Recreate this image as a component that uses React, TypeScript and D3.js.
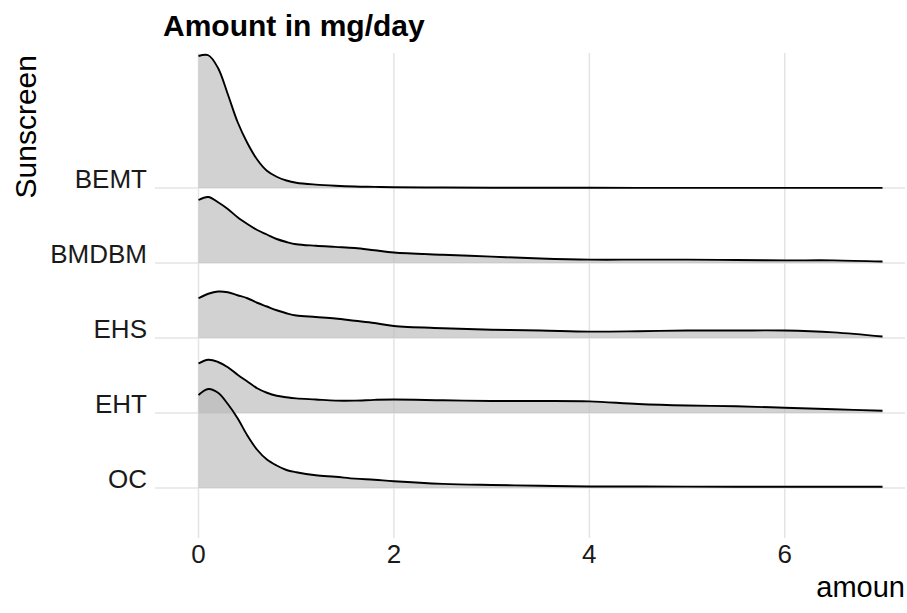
import * as d3 from "d3";

// sunscreen categories, top to bottom
const categories = ["BEMT", "BMDBM", "EHS", "EHT", "OC"];

const amount = [0, 0.1, 0.2, 0.3, 0.4, 0.5, 0.6, 0.7, 0.8, 0.9, 1.0, 1.2, 1.4, 1.6, 1.8, 2.0, 2.5, 3.0, 3.5, 4.0, 4.5, 5.0, 5.5, 6.0, 6.5, 7.0];

// ridge heights (in units of one row)
const bemt = [1.76, 1.77, 1.6, 1.25, 0.88, 0.6, 0.38, 0.23, 0.15, 0.1, 0.07, 0.045, 0.03, 0.02, 0.015, 0.01, 0.006, 0.004, 0.003, 0.003, 0.002, 0.002, 0.002, 0.002, 0.002, 0.002];
const bmdbm = [0.84, 0.88, 0.81, 0.72, 0.61, 0.52, 0.44, 0.38, 0.32, 0.28, 0.25, 0.23, 0.215, 0.2, 0.17, 0.14, 0.11, 0.085, 0.06, 0.045, 0.045, 0.045, 0.04, 0.035, 0.035, 0.02];
const ehs = [0.53, 0.59, 0.62, 0.61, 0.57, 0.53, 0.47, 0.42, 0.37, 0.33, 0.3, 0.28, 0.26, 0.23, 0.2, 0.16, 0.13, 0.11, 0.1, 0.085, 0.09, 0.1, 0.1, 0.1, 0.075, 0.02];
const eht = [0.66, 0.71, 0.68, 0.61, 0.51, 0.42, 0.33, 0.27, 0.23, 0.21, 0.195, 0.18, 0.165, 0.165, 0.175, 0.18, 0.17, 0.16, 0.16, 0.155, 0.12, 0.1, 0.09, 0.07, 0.05, 0.03];
const oc = [1.24, 1.32, 1.27, 1.12, 0.93, 0.7, 0.51, 0.38, 0.3, 0.24, 0.21, 0.17, 0.15, 0.125, 0.11, 0.09, 0.055, 0.04, 0.03, 0.02, 0.02, 0.018, 0.017, 0.017, 0.017, 0.017];

const xTicks = [0, 2, 4, 6];

const W = 907;
const H = 613;
const font = "'Liberation Sans', Arial, sans-serif";

export default function App() {
  const series = [bemt, bmdbm, ehs, eht, oc];

  const panel = { left: 155, right: 905, top: 53, bottom: 538 };

  const x = d3.scaleLinear().domain([0, 7]).range([198.5, 882.5]);
  const y = d3.scalePoint<string>().domain(categories).range([188, 488]);
  const h = d3.scaleLinear().domain([0, 1]).range([0, 75]);

  return (
    <svg width={W} height={H} style={{ position: "absolute", left: 0, top: 0, background: "#fff" }}>
      {/* grid */}
      <g stroke="#e4e4e4" strokeWidth={1.5}>
        {categories.map((c) => (
          <line key={c} x1={panel.left} x2={panel.right} y1={y(c)} y2={y(c)} />
        ))}
        {xTicks.map((t) => (
          <line key={t} x1={x(t)} x2={x(t)} y1={panel.top} y2={panel.bottom} />
        ))}
      </g>

      {/* ridges, top row first so lower ones sit over it */}
      {categories.map((c, i) => {
        const base = y(c)!;
        const pts = amount.map((a, j) => [a, series[i][j]] as [number, number]);
        const area = d3
          .area<[number, number]>()
          .x((d) => x(d[0]))
          .y0(base)
          .y1((d) => base - h(Math.max(0, d[1])))
          .curve(d3.curveCatmullRom.alpha(0.5));
        const line = d3
          .line<[number, number]>()
          .x((d) => x(d[0]))
          .y((d) => base - h(Math.max(0, d[1])))
          .curve(d3.curveCatmullRom.alpha(0.5));
        return (
          <g key={c}>
            <path d={area(pts)!} fill="#bababa" fillOpacity={0.65} />
            <path d={line(pts)!} fill="none" stroke="#000" strokeWidth={1.9} />
          </g>
        );
      })}

      {/* y labels */}
      <g fontFamily={font} fontSize={26} fill="#1a1a1a" textAnchor="end">
        {categories.map((c) => (
          <text key={c} x={147} y={y(c)}>
            {c}
          </text>
        ))}
      </g>

      {/* x labels */}
      <g fontFamily={font} fontSize={26} fill="#1a1a1a" textAnchor="middle">
        {xTicks.map((t) => (
          <text key={t} x={x(t)} y={563}>
            {t}
          </text>
        ))}
      </g>

      {/* titles */}
      <text x={163} y={36} fontFamily={font} fontSize={30} fontWeight="bold" fill="#000">
        Amount in mg/day
      </text>
      <text
        transform={`translate(36,55) rotate(-90)`}
        fontFamily={font}
        fontSize={30}
        fill="#000"
        textAnchor="end"
      >
        Sunscreen
      </text>
      <text x={905} y={597} fontFamily={font} fontSize={29} fill="#000" textAnchor="end">
        amoun
      </text>
    </svg>
  );
}
